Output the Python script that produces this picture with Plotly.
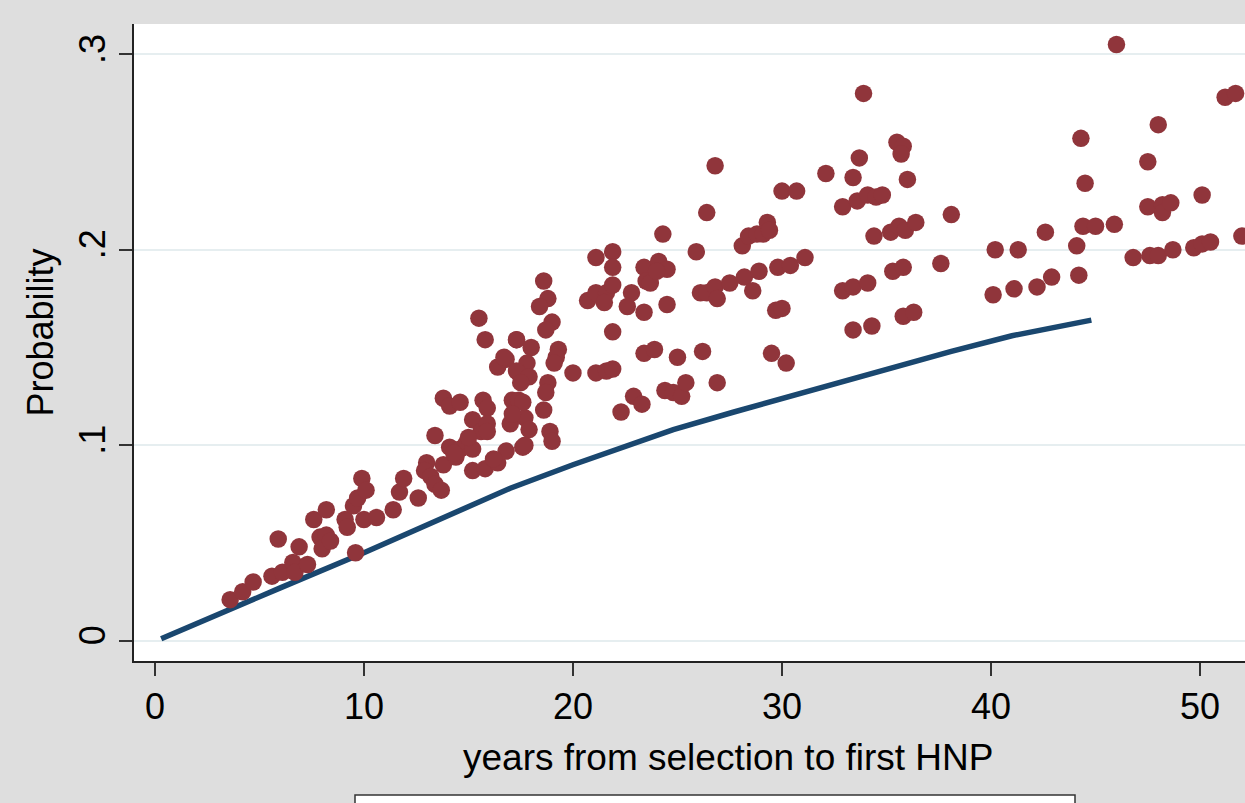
import plotly.graph_objects as go

# Fitted curve
line_x = [0.3, 1.2, 3.6, 6.0, 10.0, 13.2, 17.0, 20.0, 22.1, 24.8, 27.7, 31.7, 35.7, 38.1, 41.0, 44.8]
line_y = [0.001, 0.005, 0.016, 0.027, 0.045, 0.060, 0.078, 0.090, 0.098, 0.108, 0.117, 0.129, 0.141, 0.148, 0.156, 0.164]

# Observed points
pts_x = [
    3.6, 4.2, 4.7, 5.6, 5.9, 6.1, 6.6, 6.7, 6.9, 7.3, 7.6, 8.2, 7.9, 8.2, 8.0, 8.4,
    9.1, 9.2, 9.5, 9.6, 9.7, 9.9, 10.1, 10.0, 10.6, 11.4, 11.7, 11.9, 12.6, 13.0,
    12.9, 13.2, 13.4, 13.4, 13.7, 13.8, 13.8, 14.1, 14.1, 14.4, 14.6, 14.6, 14.9,
    15.2, 15.2, 15.2, 15.5, 15.6, 15.7, 15.8, 15.8, 15.9, 15.9, 15.9, 16.4, 16.4,
    16.8, 16.8, 17.0, 17.1, 17.3, 17.4, 17.6, 17.7,
    18.6, 18.8, 18.4, 19.0, 18.7, 17.3, 16.7, 18.0, 17.8, 19.3, 19.2, 19.1, 17.3,
    17.9, 17.5, 18.8, 18.7, 17.4, 17.6, 18.6, 17.1, 17.9, 18.9, 19.0, 17.7, 20.0,
    21.1, 21.9, 21.9, 20.7, 21.1, 21.6, 21.9, 21.5, 22.8, 22.6, 23.4, 21.9, 21.1,
    21.6, 21.9, 23.4, 23.5, 23.7, 24.1, 24.5, 24.3, 24.0, 23.4, 23.9, 24.5, 25.0,
    22.3, 22.9, 23.3, 24.4, 24.8, 25.2, 25.4, 25.9, 26.4, 26.8, 26.2, 26.9, 26.1,
    26.4, 26.8, 26.9, 27.5, 28.2, 28.6, 28.9, 28.1, 28.4, 28.8, 29.1, 29.3, 29.4,
    30.0, 30.7, 29.8, 30.4, 31.1, 29.7, 30.0, 29.5, 30.2, 32.1, 33.7, 33.4, 35.5,
    35.8, 35.7, 36.0, 32.9, 33.6, 34.1, 34.5, 34.8, 34.4, 35.2, 35.6, 35.9, 36.4,
    38.1, 37.6, 35.3, 35.8, 32.9, 33.4, 34.1, 35.8, 36.3, 33.4, 34.3,
    46.0, 44.3, 44.5, 51.2, 51.7, 48.0, 47.5, 47.5, 48.2, 48.2, 48.6, 50.1, 52.0,
    44.4, 45.0, 45.9, 42.6, 44.1, 44.2, 42.9, 42.2, 41.1, 40.1, 40.2, 41.3, 46.8,
    47.6, 48.0, 48.7, 49.7, 50.1, 50.5, 33.9, 15.0, 14.3, 16.2,
]
pts_y = [
    0.021, 0.025, 0.030, 0.033, 0.052, 0.035, 0.040, 0.035, 0.048, 0.039, 0.062, 0.067, 0.053, 0.054, 0.047, 0.051,
    0.062, 0.058, 0.069, 0.045, 0.073, 0.083, 0.077, 0.062, 0.063, 0.067, 0.076, 0.083, 0.073, 0.091,
    0.087, 0.084, 0.105, 0.080, 0.077, 0.090, 0.124, 0.120, 0.099, 0.094, 0.122, 0.098, 0.101,
    0.113, 0.098, 0.087, 0.165, 0.107, 0.123, 0.154, 0.088, 0.119, 0.111, 0.107, 0.091, 0.140,
    0.144, 0.097, 0.111, 0.123, 0.154, 0.137, 0.099, 0.114,
    0.184, 0.175, 0.171, 0.163, 0.159, 0.154, 0.145, 0.150, 0.142, 0.149, 0.145, 0.142, 0.138,
    0.135, 0.132, 0.132, 0.127, 0.123, 0.122, 0.118, 0.116, 0.108, 0.107, 0.102, 0.100, 0.137,
    0.196, 0.199, 0.191, 0.174, 0.178, 0.178, 0.182, 0.173, 0.178, 0.171, 0.168, 0.158, 0.137,
    0.138, 0.139, 0.191, 0.184, 0.183, 0.194, 0.190, 0.208, 0.189, 0.147, 0.149, 0.172, 0.145,
    0.117, 0.125, 0.121, 0.128, 0.127, 0.125, 0.132, 0.199, 0.219, 0.243, 0.148, 0.132, 0.178,
    0.178, 0.181, 0.175, 0.183, 0.186, 0.179, 0.189, 0.202, 0.207, 0.208, 0.208, 0.214, 0.210,
    0.230, 0.230, 0.191, 0.192, 0.196, 0.169, 0.170, 0.147, 0.142, 0.239, 0.247, 0.237, 0.255,
    0.253, 0.249, 0.236, 0.222, 0.225, 0.228, 0.227, 0.228, 0.207, 0.209, 0.212, 0.210, 0.214,
    0.218, 0.193, 0.189, 0.191, 0.179, 0.181, 0.183, 0.166, 0.168, 0.159, 0.161,
    0.305, 0.257, 0.234, 0.278, 0.280, 0.264, 0.245, 0.222, 0.223, 0.219, 0.224, 0.228, 0.207,
    0.212, 0.212, 0.213, 0.209, 0.202, 0.187, 0.186, 0.181, 0.180, 0.177, 0.200, 0.200, 0.196,
    0.197, 0.197, 0.200, 0.201, 0.203, 0.204, 0.280, 0.104, 0.096, 0.093,
]

x_ticks = [0, 10, 20, 30, 40, 50]
x_ticktext = ["0", "10", "20", "30", "40", "50"]
y_ticks = [0, 0.1, 0.2, 0.3]
y_ticktext = ["0", ".1", ".2", ".3"]

x_title = "years from selection to first HNP"
y_title = "Probability"

FONT = "Liberation Sans, Arial, sans-serif"
W, H = 1245, 803
L, R, T, B = 134, 0, 24, 142
pw, ph = W - L - R, H - T - B

def px(xp):
    return (xp - L) / pw

def py(yp):
    return (H - B - yp) / ph

fig = go.Figure()
fig.add_trace(go.Scatter(x=line_x, y=line_y, mode="lines",
                         line=dict(color="#1a476f", width=5.5), showlegend=False,
                         hoverinfo="skip"))
fig.add_trace(go.Scatter(x=pts_x, y=pts_y, mode="markers",
                         marker=dict(color="#90353b", size=17.5, line=dict(width=0)),
                         showlegend=False))

fig.update_layout(
    width=W, height=H,
    margin=dict(l=L, r=R, t=T, b=B, pad=0),
    paper_bgcolor="#dedede",
    plot_bgcolor="white",
    font=dict(family=FONT, color="black", size=35),
    xaxis=dict(range=[-1.0, 52.15], tickvals=x_ticks, ticktext=x_ticktext,
               showgrid=False, zeroline=False, showline=True, linecolor="#222",
               linewidth=1.5, ticks="outside", ticklen=13, tickwidth=1.5,
               tickcolor="#333", tickfont=dict(size=36, family=FONT),
               ticklabelstandoff=0),
    yaxis=dict(range=[-0.0104, 0.3155], tickvals=y_ticks, ticktext=y_ticktext,
               showgrid=True, gridcolor="#e6eef0", gridwidth=1.5,
               zeroline=False, showline=True, linecolor="#222",
               linewidth=1.5, ticks="outside", ticklen=13, tickwidth=1.5,
               tickcolor="#333", tickangle=-90, tickfont=dict(size=36, family=FONT)),
    shapes=[dict(type="rect", xref="paper", yref="paper",
                 x0=px(355), x1=px(1075), y0=py(815), y1=py(795),
                 line=dict(color="#333", width=1.5), fillcolor="white", layer="above")],
    annotations=[
        dict(text=x_title, xref="paper", yref="paper", x=px(728), y=py(757.5),
             xanchor="center", yanchor="middle", showarrow=False,
             font=dict(size=37, family=FONT, color="black")),
        dict(text=y_title, xref="paper", yref="paper", x=px(40), y=py(332.5),
             xanchor="center", yanchor="middle", showarrow=False, textangle=-90,
             font=dict(size=36, family=FONT, color="black")),
    ],
)

fig.write_html("out.html")
